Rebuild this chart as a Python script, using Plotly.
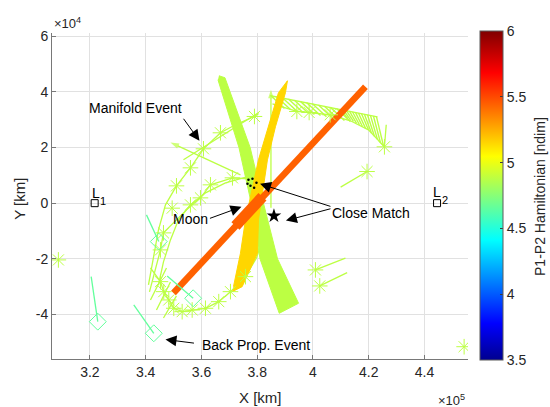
import plotly.graph_objects as go
from plotly.colors import sample_colorscale

# ---------------- colour scale (jet) ----------------
JET = [[0.0, "rgb(0,0,143)"], [0.111, "rgb(0,0,255)"], [0.365, "rgb(0,255,255)"],
       [0.619, "rgb(255,255,0)"], [0.873, "rgb(255,0,0)"], [1.0, "rgb(128,0,0)"]]
H_MIN, H_MAX = 3.5, 6.0

# P1-P2 Hamiltonian of each family [ndim]
H_MANIFOLD = 4.88
H_BACKPROP = 4.66
H_BAND_YELLOW = 5.15
H_BAND_ORANGE = 5.44

# ---------------- data [km] ----------------
lib_x = [321700, 444500]
lib_y = [0, 0]
lib_letter_x = [322173, 444530]
lib_letter_y = [3525, 4172]
lib_index_x = [324863, 447504]
lib_index_y = [647, 1187]
lib_index = ["1", "2"]

# swept quiver bands (outlines)
green_band_x = [366281, 368433, 377469, 382239, 387295, 394825, 387905, 381019, 377864, 373453, 365922]
green_band_y = [45790, 45070, 19999, 0, -20035, -35970, -39567, -20035, 0, 19999, 44351]
yellow_band_x = [371014, 374601, 380088, 380446, 383673, 386541, 390127, 390845,
                 387618, 384032, 380446, 375784, 373991, 371481]
yellow_band_y = [-31797, -29999, -17985, -6007, 15575, 27445, 39675, 43991,
                 39675, 27445, 15575, -6007, -17985, -29999]
orange_band_x = [349965, 418816]
orange_band_y = [-32265, 41833]
orange_core_x = [372198, 381880]
orange_core_y = [-8165, 2266]

# manifold trajectories
arc_a_x = [380446, 379011, 372915, 366819, 360723, 356061, 351041, 347096, 344586, 342434, 341000]
arc_a_y = [32121, 31150, 28524, 25287, 19532, 12697, 6223, -612, -9604, -21114, -29388]
arc_b_x = [382239, 371122, 363233, 359647, 354627, 351041, 346379, 345303, 343151, 341358]
arc_b_y = [8381, 9100, 6582, 1906, -2410, -6007, -10683, -16798, -24711, -31905]
arc_c_x = [377577, 368612, 361440, 356061, 351758, 348889, 346379, 344586]
arc_c_y = [9820, 7302, 3705, -612, -6007, -13201, -21114, -29388]
arc_d_x = [341717, 345303, 346486, 348279, 350072, 353085, 356671, 361440, 366209, 370405, 375784, 379729, 381880]
arc_d_y = [-23273, -28200, -31797, -34783, -37769, -38991, -38380, -37769, -35392, -31797, -26402, -19676, -13201]
arc_e_x = [353551, 380446]
arc_e_y = [15575, 32481]
short1_x = [341717, 347455]
short1_y = [-34783, -23273]
short2_x = [343869, 348889]
short2_y = [-38380, -28308]
short3_x = [346379, 351041]
short3_y = [-41258, -33344]
fan_top_x = [384749, 423119]
fan_top_y = [38596, 31042]
fan_traj_x = [385466, 394216, 398627, 406157, 413437, 419892, 425629, 426275]
fan_traj_y = [35718, 32949, 32589, 31761, 29603, 26366, 20251, 28164]
s1_x = [409923, 419390]
s1_y = [5755, 11367]
s2_x = [411644, 400886]
s2_y = [-19784, -23992]
s3_x = [412254, 402428]
s3_y = [-24964, -29747]
# trajectories that end in an arrow head
ray_x = [373991, 348889]
ray_y = [10179, 21798]
vert_x = [384928, 384928]
vert_y = [-1691, 40754]

# quiver fan in the upper right: start / end of each arrow
fan_x0 = [384749, 386901, 389052, 391204, 393355, 395507, 397659, 399810, 401962, 404113, 406265, 408417,
          409851, 410927, 412003, 413078, 414154, 415230, 416306, 417382, 418457, 419533, 420609, 421685, 422761]
fan_y0 = [38740, 38308, 37876, 37445, 37013, 36582, 36150, 35718, 35287, 34855, 34423, 33992,
          33704, 33488, 33272, 33057, 32841, 32625, 32409, 32193, 31977, 31762, 31546, 31330, 31114]
fan_x1 = [389769, 391921, 394073, 396224, 398376, 400527, 402679, 404831, 406982, 409134, 411285, 413437,
          412361, 413437, 414513, 415589, 416664, 417740, 418816, 419892, 420968, 422043, 423119, 424195, 425271]
fan_y1 = [34064, 33632, 33200, 32769, 32337, 31906, 31474, 31042, 30611, 30179, 29747, 29316,
          30574, 29963, 29352, 28777, 28165, 27553, 26978, 26366, 25215, 24064, 22913, 21762, 20647]

# asterisk events along the manifold trajectories
star_x = [379011, 366819, 360723, 356061, 351041, 371122, 363233, 359647, 346379, 345303,
          356061, 349499, 345303, 346486, 348279, 350072, 353085, 356671, 361440, 366209,
          370405, 375784, 394216, 398627, 406157, 425629, 419390, 400886, 402428, 308690, 454210]
star_y = [31150, 25287, 19532, 12697, 6223, 9100, 6582, 1906, -10683, -16798,
          -612, -1798, -28200, -31797, -34783, -37769, -38991, -38380, -37769, -35392,
          -31797, -26402, 32949, 32589, 31761, 20251, 11367, -23992, -29747, -20395, -51581]

# back-propagated segments ending in diamonds
bp_x0 = [320452, 335728, 347706, 340283]
bp_y0 = [-26402, -36582, -26150, -4209]
bp_x1 = [322819, 342900, 357029, 344693]
bp_y1 = [-42588, -46761, -34171, -13812]

# close-match points
match_x = [376860, 378294, 379729, 377577, 376501, 378900]
match_y = [8381, 8741, 7302, 6223, 6942, 5500]
match_star_x = [386004]
match_star_y = [-4568]

# labels and pointer arrows
label_text = ["Manifold Event", "Moon", "Close Match", "Back Prop. Event"]
label_x = [336338, 356061, 420968, 379513]
label_y = [34171, -5827, -3597, -50970]
arrow_tail_x = [353192, 362516, 406803, 406803, 357854]
arrow_tail_y = [30862, -5647, -1331, -1870, -50358]
arrow_tip_x = [359288, 374350, 381020, 390307, 347096]
arrow_tip_y = [22409, -1331, 6942, -6259, -48991]

x_ticks = [320000, 340000, 360000, 380000, 400000, 420000, 440000]
x_tick_text = ["3.2", "3.4", "3.6", "3.8", "4", "4.2", "4.4"]
y_ticks = [-40000, -20000, 0, 20000, 40000, 60000]
y_tick_text = ["-4", "-2", "0", "2", "4", "6"]
cbar_ticks = [3.5, 4, 4.5, 5, 5.5, 6]


def hcolor(h):
    return sample_colorscale(JET, [(h - H_MIN) / (H_MAX - H_MIN)])[0]


def joined(pairs):
    xs, ys = [], []
    for px, py in pairs:
        xs += list(px) + [None]
        ys += list(py) + [None]
    return xs, ys


def arrow_trace(xs, ys, color, width, head):
    return go.Scatter(x=xs, y=ys, mode="lines+markers", line=dict(color=color, width=width),
                      marker=dict(symbol="arrow", size=[0, head], angleref="previous",
                                  color=color, line=dict(width=0)),
                      hoverinfo="skip", showlegend=False)


FONT = "Liberation Sans, Arial, Helvetica, sans-serif"
TXT = "rgb(38,38,38)"
C_MAN = hcolor(H_MANIFOLD)
C_BP = hcolor(H_BACKPROP)
C_Y = hcolor(H_BAND_YELLOW)
C_O = hcolor(H_BAND_ORANGE)

fig = go.Figure()

# manifold trajectories
lx, ly = joined([(arc_a_x, arc_a_y), (arc_b_x, arc_b_y), (arc_c_x, arc_c_y), (arc_d_x, arc_d_y),
                 (arc_e_x, arc_e_y), (short1_x, short1_y), (short2_x, short2_y), (short3_x, short3_y),
                 (fan_top_x, fan_top_y), (fan_traj_x, fan_traj_y),
                 (s1_x, s1_y), (s2_x, s2_y), (s3_x, s3_y)])
fig.add_trace(go.Scatter(x=lx, y=ly, mode="lines", line=dict(color=C_MAN, width=1.3),
                         hoverinfo="skip", showlegend=False))
fig.add_trace(arrow_trace(ray_x, ray_y, C_MAN, 1.3, 9))
fig.add_trace(arrow_trace(vert_x, vert_y, C_MAN, 1.3, 9))

fx, fy = joined([([a, b], [c, d]) for a, b, c, d in zip(fan_x0, fan_x1, fan_y0, fan_y1)])
fig.add_trace(go.Scatter(x=fx, y=fy, mode="lines", line=dict(color=C_MAN, width=1.4),
                         hoverinfo="skip", showlegend=False))

# swept bands
fig.add_trace(go.Scatter(x=green_band_x, y=green_band_y, mode="lines", fill="toself",
                         fillcolor=C_MAN, line=dict(color=C_MAN, width=1),
                         hoverinfo="skip", showlegend=False))
fig.add_trace(go.Scatter(x=yellow_band_x, y=yellow_band_y, mode="lines", fill="toself",
                         fillcolor=C_Y, line=dict(color=C_Y, width=1),
                         hoverinfo="skip", showlegend=False))
fig.add_trace(go.Scatter(x=orange_band_x, y=orange_band_y, mode="lines",
                         line=dict(color=C_O, width=6.5), hoverinfo="skip", showlegend=False))
fig.add_trace(go.Scatter(x=orange_core_x, y=orange_core_y, mode="lines",
                         line=dict(color=C_O, width=11), hoverinfo="skip", showlegend=False))

# asterisk events
fig.add_trace(go.Scatter(x=star_x, y=star_y, mode="markers",
                         marker=dict(symbol="asterisk-open", size=13, color=C_MAN,
                                     line=dict(color=C_MAN, width=1)),
                         hoverinfo="skip", showlegend=False))

# back-propagation segments with diamonds (carries the colour bar)
bx, by = joined([([a, b], [c, d]) for a, b, c, d in zip(bp_x0, bp_x1, bp_y0, bp_y1)])
fig.add_trace(go.Scatter(x=bx, y=by, mode="lines", line=dict(color=C_BP, width=1.3),
                         hoverinfo="skip", showlegend=False))
fig.add_trace(go.Scatter(
    x=bp_x1, y=bp_y1, mode="markers",
    marker=dict(symbol="diamond-open", size=13, color=[H_BACKPROP] * len(bp_x1),
                colorscale=JET, cmin=H_MIN, cmax=H_MAX, line=dict(width=1),
                showscale=True,
                colorbar=dict(x=1.0288, xanchor="left", xpad=0, ypad=0, y=0.5015, yanchor="middle",
                              len=1.009, lenmode="fraction", thickness=23, thicknessmode="pixels",
                              outlinecolor="rgb(90,90,90)", outlinewidth=1,
                              tickvals=cbar_ticks, ticktext=[f"{v:g}" for v in cbar_ticks],
                              ticks="inside", ticklen=3, tickcolor="rgb(60,60,60)",
                              tickfont=dict(family=FONT, size=14, color=TXT))),
    hoverinfo="skip", showlegend=False))

# close-match markers
fig.add_trace(go.Scatter(x=match_x, y=match_y, mode="markers",
                         marker=dict(symbol="circle", size=2.5, color="black"),
                         hoverinfo="skip", showlegend=False))
fig.add_trace(go.Scatter(x=match_star_x, y=match_star_y, mode="markers",
                         marker=dict(symbol="star", size=11, color="black"),
                         hoverinfo="skip", showlegend=False))

# libration points
fig.add_trace(go.Scatter(x=lib_x, y=lib_y, mode="markers",
                         marker=dict(symbol="square-open", size=7, color="black", line=dict(width=1)),
                         hoverinfo="skip", showlegend=False))

annotations = []
# pointer arrows (tail -> tip, filled heads)
for tx, ty, hx, hy in zip(arrow_tail_x, arrow_tail_y, arrow_tip_x, arrow_tip_y):
    annotations.append(dict(x=hx, y=hy, ax=tx, ay=ty, xref="x", yref="y", axref="x", ayref="y",
                            text="", showarrow=True, arrowhead=2, arrowsize=2.2, arrowwidth=1,
                            arrowcolor="black", standoff=0))
for x, y in zip(lib_letter_x, lib_letter_y):
    annotations.append(dict(x=x, y=y, xref="x", yref="y", text="L", showarrow=False,
                            font=dict(family=FONT, size=14, color="black")))
for x, y, t in zip(lib_index_x, lib_index_y, lib_index):
    annotations.append(dict(x=x, y=y, xref="x", yref="y", text=t, showarrow=False,
                            font=dict(family=FONT, size=11, color="black")))
for t, x, y in zip(label_text, label_x, label_y):
    annotations.append(dict(x=x, y=y, xref="x", yref="y", text=t, showarrow=False,
                            font=dict(family=FONT, size=14, color="black")))

# axis titles, colour-bar title and exponent labels
annotations += [
    dict(x=0.5, y=-0.117, xref="paper", yref="paper", text="X [km]", showarrow=False,
         font=dict(family=FONT, size=15, color=TXT), yanchor="middle"),
    dict(x=-0.078, y=0.49, xref="paper", yref="paper", text="Y [km]", showarrow=False,
         textangle=-90, font=dict(family=FONT, size=15, color=TXT), xanchor="center"),
    dict(x=1.173, y=0.5, xref="paper", yref="paper", text="P1-P2 Hamiltonian [ndim]", showarrow=False,
         textangle=-90, font=dict(family=FONT, size=14, color=TXT), xanchor="center", yanchor="middle"),
    dict(x=0.0, y=1.031, xref="paper", yref="paper", text="\u00d710<sup>4</sup>", showarrow=False,
         xanchor="left", yanchor="middle", font=dict(family=FONT, size=13, color=TXT)),
    dict(x=0.998, y=-0.126, xref="paper", yref="paper", text="\u00d710<sup>5</sup>", showarrow=False,
         xanchor="right", yanchor="middle", font=dict(family=FONT, size=13, color=TXT)),
]

axis_common = dict(showgrid=True, gridcolor="rgb(225,225,225)", gridwidth=1, zeroline=False,
                   showline=True, linecolor="rgb(120,120,120)", linewidth=1, mirror=False,
                   ticks="inside", ticklen=4, tickcolor="rgb(120,120,120)",
                   tickfont=dict(family=FONT, size=14, color=TXT))

fig.update_layout(
    width=550, height=407,
    margin=dict(l=52, r=82, t=33, b=48),
    paper_bgcolor="white", plot_bgcolor="white",
    xaxis=dict(range=[306400, 455600], tickvals=x_ticks, ticktext=x_tick_text, **axis_common),
    yaxis=dict(range=[-56000, 61150], tickvals=y_ticks, ticktext=y_tick_text, **axis_common),
    annotations=annotations,
    showlegend=False,
)

fig.write_html("out.html")
